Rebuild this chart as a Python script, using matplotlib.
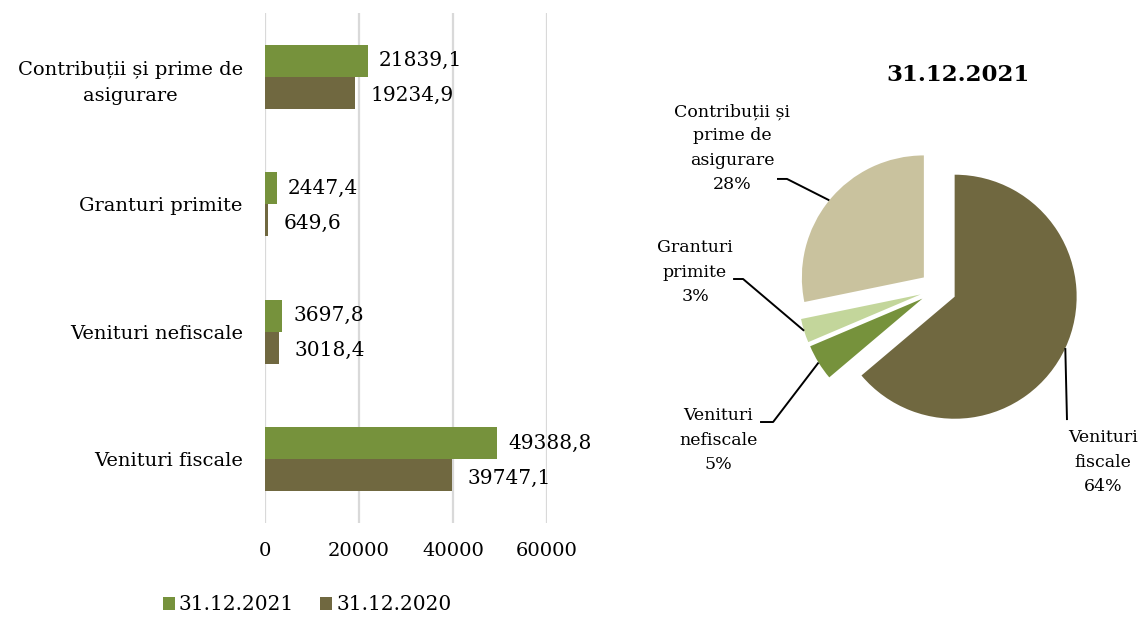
import matplotlib
matplotlib.use('Agg')
import matplotlib.pyplot as plt
import numpy as np

# bar chart data (bottom to top)
categories = ["Venituri fiscale", "Venituri nefiscale", "Granturi primite",
              "Contribuții și prime de\nasigurare"]
values_2021 = [49388.8, 3697.8, 2447.4, 21839.1]
values_2020 = [39747.1, 3018.4, 649.6, 19234.9]
series_labels = ["31.12.2021", "31.12.2020"]
x_ticks = [0, 20000, 40000, 60000]

# pie data (clockwise from 12 o'clock)
pie_title = "31.12.2021"
pie_labels = ["Venituri\nfiscale", "Venituri\nnefiscale", "Granturi\nprimite",
              "Contribuții și\nprime de\nasigurare"]
pie_values = [49388.8, 3697.8, 2447.4, 21839.1]

GREEN = "#76923C"
BROWN = "#706840"
pie_colors = [BROWN, GREEN, "#C3D69B", "#C9C29E"]

plt.rcParams['font.family'] = ['DejaVu Serif']
W, H = 1143, 618
fig = plt.figure(figsize=(W / 100, H / 100), dpi=100)


def fmt(v):
    return f"{v:.1f}".replace('.', ',')


# ---- bar chart ----
ax = fig.add_axes([265 / W, 1 - 523 / H, (547 - 265) / W, (523 - 13) / H])
y = np.arange(len(categories))
h = 0.25
b21 = ax.barh(y + h / 2, values_2021, height=h, color=GREEN, label=series_labels[0])
b20 = ax.barh(y - h / 2, values_2020, height=h, color=BROWN, label=series_labels[1])
for yy, v in zip(y + h / 2, values_2021):
    ax.annotate(fmt(v), xy=(v, yy), xytext=(8, 0), textcoords='offset points',
                va='center', ha='left', fontsize=14.5)
for yy, v in zip(y - h / 2, values_2020):
    ax.annotate(fmt(v), xy=(v, yy), xytext=(11, -2), textcoords='offset points',
                va='center', ha='left', fontsize=14.5)

ax.set_xlim(0, 60000)
ax.set_ylim(-0.5, 3.5)
ax.set_xticks(x_ticks)
ax.set_xticklabels([str(t) for t in x_ticks], fontsize=14)
ax.set_yticks(y)
ax.set_yticklabels(categories, fontsize=14, multialignment='center',
                   linespacing=1.6)
ax.tick_params(length=0)
ax.tick_params(axis='x', pad=14)
ax.tick_params(axis='y', pad=16)
ax.grid(axis='x', color='#D9D9D9', lw=1.6)
ax.set_axisbelow(True)
for s in ax.spines.values():
    s.set_visible(False)

fig.legend(handles=[b21, b20], loc='center',
           bbox_to_anchor=(307 / W, 1 - 605 / H), ncol=2, frameon=False,
           fontsize=14.5, handlelength=0.6, handleheight=0.6,
           handletextpad=0.2, columnspacing=1.3)

# ---- pie chart ----
pax = fig.add_axes([640 / W, 1 - 520 / H, 503 / W, 420 / H])
wedges, _ = pax.pie(pie_values, colors=pie_colors, startangle=90,
                    counterclock=False, explode=[0.15] * 4, radius=1,
                    wedgeprops=dict(linewidth=0))
pax.set_xlim(-2.443, 1.680)
pax.set_ylim(-1.893, 1.549)
pax.set_aspect('auto')
pax.axis('off')

total = sum(pie_values)
# label layout: text centre, elbow, leader end
text_pos = [(1.352, -1.418), (-1.803, -1.238), (-1.992, 0.139), (-1.689, 1.156)]
elbows = [(1.057, -1.074), (-1.352, -1.090), (-1.598, 0.082), (-1.238, 0.902)]
ends = [(1.057, -1.074), (-1.459, -1.090), (-1.680, 0.082), (-1.320, 0.902)]
for w, lab, v, tp, el, en in zip(wedges, pie_labels, pie_values,
                                  text_pos, elbows, ends):
    mid = np.deg2rad((w.theta1 + w.theta2) / 2)
    cx, cy = w.center
    ax_pt = (cx + w.r * np.cos(mid), cy + w.r * np.sin(mid))
    pax.plot([ax_pt[0], el[0], en[0]], [ax_pt[1], el[1], en[1]],
             color='black', lw=1.4, solid_capstyle='butt')
    pct = f"{round(100 * v / total)}%"
    pax.text(tp[0], tp[1], lab + "\n" + pct, ha='center', va='center',
             fontsize=12.5, linespacing=1.55)

fig.text(958 / W, 1 - 75 / H, pie_title, ha='center', va='center',
         fontsize=16.5, fontweight='bold')

fig.savefig("out.png", dpi=100)
